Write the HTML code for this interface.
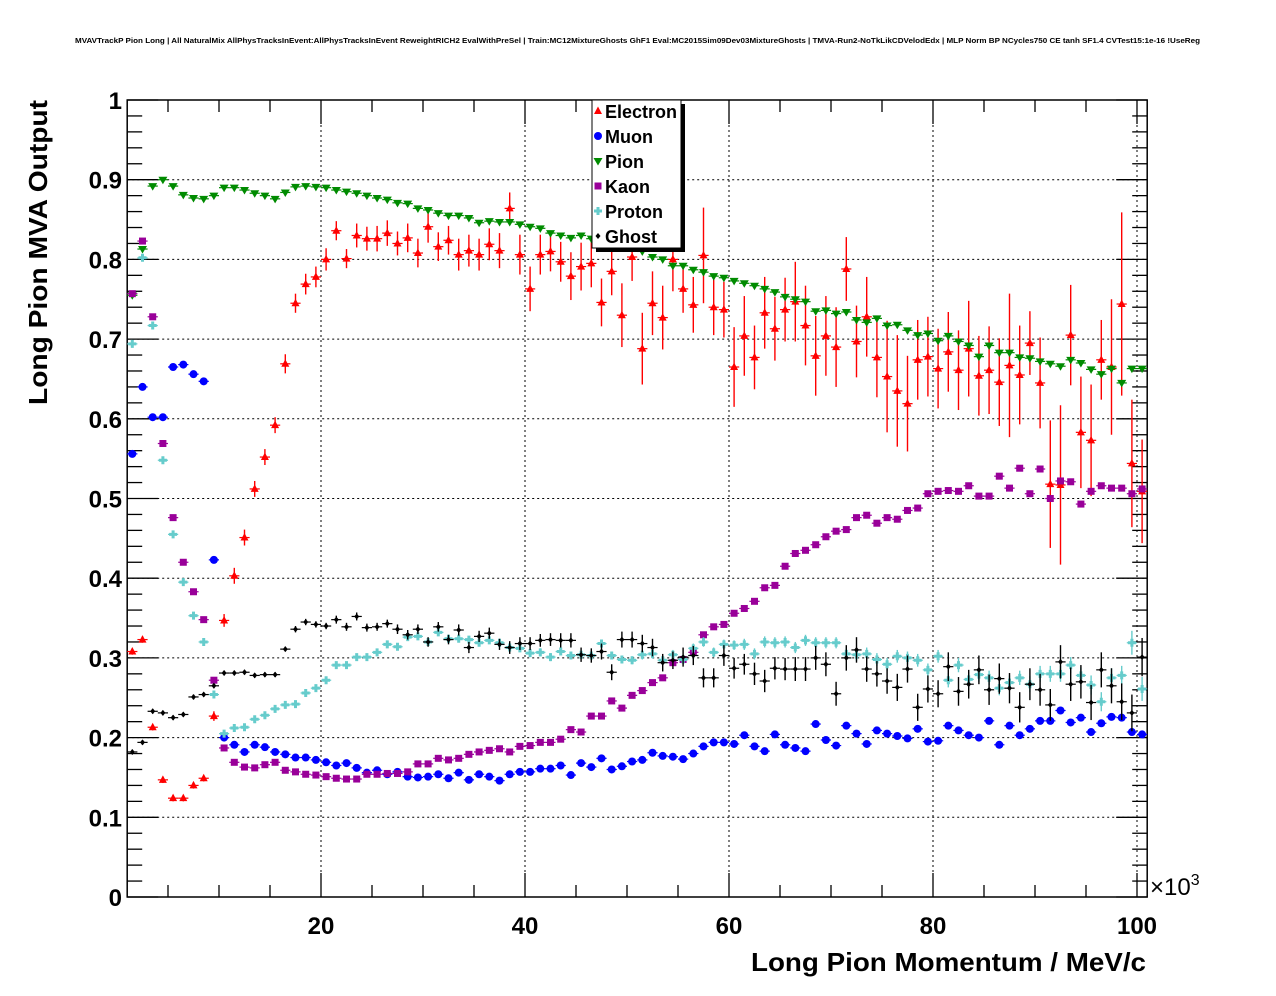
<!DOCTYPE html>
<html><head><meta charset="utf-8">
<style>
html,body{margin:0;padding:0;background:#fff;}
svg{display:block;font-family:"Liberation Sans",Arial,sans-serif;}
</style></head>
<body>
<svg id="chart" width="1276" height="996" viewBox="0 0 1276 996" xmlns="http://www.w3.org/2000/svg">
<rect x="0" y="0" width="1276" height="996" fill="#fff"/>
<text x="75" y="43" font-size="7.6" font-weight="bold" textLength="1125" lengthAdjust="spacingAndGlyphs">MVAVTrackP Pion Long | All NaturalMix AllPhysTracksInEvent:AllPhysTracksInEvent ReweightRICH2 EvalWithPreSel | Train:MC12MixtureGhosts GhF1 Eval:MC2015Sim09Dev03MixtureGhosts | TMVA-Run2-NoTkLikCDVelodEdx | MLP Norm BP NCycles750 CE tanh SF1.4 CVTest15:1e-16 !UseReg</text>
<g id="grid"></g>
<g id="axes"></g>
<g id="series"></g>
<text transform="translate(47,405) rotate(-90)" font-size="26" font-weight="bold" textLength="305" lengthAdjust="spacingAndGlyphs">Long Pion MVA Output</text>
<text x="751" y="971" font-size="26" font-weight="bold" textLength="395" lengthAdjust="spacingAndGlyphs">Long Pion Momentum / MeV/c</text>
<text x="1150" y="895" font-size="24" font-weight="normal">×10<tspan font-size="16" dy="-10">3</tspan></text>
<g id="legend"></g>
</svg>
<script>
const categories = Array.from({length:100},(_,i)=>i+1.5); // bin centres in 10^3 MeV/c
const yTicks = [0,0.1,0.2,0.3,0.4,0.5,0.6,0.7,0.8,0.9,1];
const yTickLabels = ["0","0.1","0.2","0.3","0.4","0.5","0.6","0.7","0.8","0.9","1"];
const xTicks = [20,40,60,80,100];
const xTickLabels = ["20","40","60","80","100"];
const seriesNames = ["Electron","Muon","Pion","Kaon","Proton","Ghost"];
const electron = [0.308,0.323,0.213,0.147,0.124,0.124,0.14,0.149,0.227,0.347,
0.403,0.451,0.512,0.552,0.592,0.669,0.745,0.769,0.778,0.8,
0.836,0.801,0.83,0.826,0.826,0.833,0.82,0.827,0.808,0.841,
0.816,0.824,0.806,0.811,0.806,0.819,0.811,0.864,0.806,0.763,
0.806,0.81,0.797,0.779,0.791,0.795,0.746,0.785,0.73,0.803,
0.688,0.745,0.727,0.8,0.763,0.743,0.805,0.74,0.737,0.665,
0.704,0.677,0.733,0.713,0.737,0.747,0.717,0.679,0.704,0.69,
0.788,0.697,0.728,0.677,0.653,0.635,0.619,0.674,0.678,0.663,
0.684,0.661,0.688,0.654,0.661,0.646,0.667,0.655,0.695,0.645,
0.518,0.517,0.705,0.583,0.573,0.674,0.665,0.744,0.544,0.509];
const electronErr = [0.004,0.004,0.004,0.004,0.004,0.004,0.004,0.004,0.006,0.008,
0.01,0.01,0.01,0.01,0.01,0.012,0.012,0.013,0.013,0.014,
0.012,0.012,0.015,0.015,0.016,0.016,0.015,0.018,0.018,0.02,
0.018,0.018,0.02,0.02,0.02,0.02,0.022,0.02,0.025,0.028,
0.025,0.025,0.025,0.03,0.03,0.03,0.03,0.03,0.04,0.03,
0.045,0.04,0.04,0.04,0.03,0.035,0.06,0.035,0.035,0.05,
0.05,0.04,0.045,0.04,0.04,0.05,0.05,0.05,0.05,0.05,
0.04,0.045,0.05,0.05,0.07,0.07,0.06,0.05,0.05,0.05,
0.05,0.05,0.06,0.05,0.055,0.055,0.09,0.062,0.04,0.057,
0.08,0.1,0.063,0.07,0.07,0.05,0.085,0.115,0.08,0.065];
const muon = [0.556,0.64,0.602,0.602,0.665,0.668,0.656,0.647,0.423,0.2,
0.191,0.182,0.191,0.188,0.182,0.179,0.175,0.175,0.172,0.169,
0.165,0.168,0.162,0.156,0.159,0.154,0.157,0.151,0.15,0.151,
0.154,0.149,0.156,0.147,0.154,0.151,0.146,0.154,0.157,0.157,
0.161,0.161,0.165,0.153,0.168,0.163,0.174,0.16,0.164,0.17,
0.172,0.181,0.177,0.176,0.173,0.18,0.189,0.194,0.194,0.192,
0.203,0.189,0.183,0.204,0.191,0.187,0.183,0.217,0.197,0.19,
0.215,0.205,0.192,0.209,0.205,0.202,0.199,0.211,0.195,0.196,
0.215,0.209,0.203,0.2,0.221,0.191,0.215,0.203,0.211,0.221,
0.221,0.234,0.219,0.225,0.207,0.218,0.226,0.225,0.207,0.204];
const pion = [0.755,0.813,0.892,0.9,0.892,0.881,0.877,0.876,0.88,0.89,
0.89,0.887,0.883,0.88,0.876,0.884,0.891,0.892,0.891,0.89,
0.887,0.885,0.883,0.88,0.877,0.875,0.871,0.87,0.864,0.862,
0.858,0.855,0.855,0.852,0.846,0.848,0.847,0.847,0.844,0.841,
0.839,0.833,0.83,0.827,0.83,0.826,0.823,0.82,0.818,0.815,
0.81,0.803,0.8,0.792,0.792,0.787,0.784,0.779,0.777,0.773,
0.77,0.767,0.763,0.759,0.753,0.75,0.747,0.735,0.736,0.732,
0.734,0.724,0.721,0.726,0.717,0.718,0.711,0.705,0.707,0.698,
0.704,0.697,0.692,0.678,0.692,0.683,0.683,0.677,0.676,0.672,
0.669,0.666,0.674,0.67,0.662,0.656,0.663,0.645,0.663,0.663];
const kaon = [0.757,0.823,0.728,0.569,0.476,0.42,0.383,0.348,0.272,0.187,
0.169,0.163,0.162,0.166,0.169,0.159,0.157,0.154,0.153,0.151,
0.149,0.148,0.148,0.154,0.154,0.155,0.155,0.157,0.167,0.167,
0.174,0.172,0.174,0.179,0.182,0.184,0.186,0.182,0.189,0.19,
0.194,0.194,0.198,0.21,0.207,0.227,0.227,0.246,0.237,0.253,
0.259,0.269,0.275,0.294,0.298,0.307,0.329,0.339,0.342,0.356,
0.362,0.371,0.388,0.391,0.415,0.431,0.435,0.442,0.452,0.459,
0.461,0.476,0.479,0.469,0.476,0.474,0.485,0.488,0.506,0.509,
0.51,0.509,0.516,0.503,0.503,0.528,0.513,0.538,0.506,0.537,
0.5,0.522,0.521,0.493,0.509,0.516,0.513,0.513,0.506,0.512];
const proton = [0.694,0.802,0.717,0.548,0.455,0.395,0.353,0.32,0.254,0.205,
0.212,0.213,0.223,0.228,0.236,0.241,0.242,0.256,0.262,0.272,
0.291,0.291,0.301,0.301,0.307,0.317,0.314,0.326,0.327,0.32,
0.332,0.324,0.324,0.323,0.319,0.322,0.319,0.313,0.312,0.306,
0.307,0.301,0.308,0.303,0.304,0.303,0.318,0.303,0.298,0.297,
0.304,0.305,0.297,0.304,0.298,0.312,0.32,0.307,0.317,0.316,
0.317,0.305,0.32,0.319,0.32,0.313,0.322,0.319,0.319,0.319,
0.305,0.304,0.305,0.298,0.292,0.302,0.3,0.297,0.285,0.302,
0.272,0.291,0.273,0.279,0.275,0.262,0.269,0.275,0.267,0.28,
0.28,0.28,0.291,0.278,0.266,0.245,0.275,0.278,0.319,0.261];
const protonErr = [0.003,0.003,0.003,0.003,0.003,0.003,0.003,0.003,0.003,0.003,
0.003,0.003,0.003,0.003,0.003,0.003,0.003,0.003,0.003,0.003,
0.004,0.004,0.004,0.004,0.004,0.004,0.004,0.004,0.004,0.004,
0.004,0.004,0.004,0.004,0.004,0.004,0.004,0.004,0.004,0.004,
0.005,0.005,0.005,0.005,0.005,0.005,0.005,0.005,0.005,0.005,
0.006,0.006,0.006,0.006,0.006,0.006,0.006,0.006,0.006,0.006,
0.007,0.007,0.007,0.007,0.007,0.007,0.007,0.007,0.007,0.007,
0.008,0.008,0.008,0.008,0.008,0.008,0.008,0.008,0.008,0.008,
0.009,0.009,0.009,0.009,0.009,0.009,0.009,0.009,0.01,0.01,
0.01,0.01,0.01,0.01,0.012,0.012,0.012,0.012,0.015,0.015];
const ghost = [0.182,0.194,0.233,0.231,0.225,0.229,0.251,0.254,0.265,0.281,
0.281,0.282,0.278,0.279,0.279,0.311,0.336,0.345,0.342,0.34,
0.348,0.339,0.352,0.338,0.339,0.343,0.336,0.329,0.336,0.32,
0.339,0.323,0.335,0.313,0.327,0.331,0.317,0.313,0.318,0.318,
0.322,0.323,0.322,0.322,0.304,0.303,0.308,0.282,0.323,0.323,
0.318,0.313,0.294,0.297,0.301,0.303,0.275,0.275,0.303,0.287,
0.292,0.28,0.271,0.287,0.286,0.286,0.286,0.3,0.292,0.255,
0.3,0.31,0.286,0.28,0.271,0.263,0.286,0.238,0.261,0.255,
0.289,0.258,0.267,0.285,0.26,0.274,0.262,0.238,0.267,0.26,
0.241,0.295,0.267,0.27,0.244,0.285,0.265,0.245,0.231,0.301];
const ghostErr = [0.003,0.003,0.003,0.003,0.003,0.003,0.003,0.003,0.003,0.003,
0.003,0.003,0.003,0.003,0.003,0.003,0.004,0.004,0.004,0.004,
0.005,0.005,0.005,0.005,0.005,0.005,0.006,0.006,0.006,0.006,
0.006,0.006,0.007,0.007,0.007,0.007,0.007,0.008,0.008,0.008,
0.008,0.008,0.009,0.009,0.009,0.009,0.01,0.01,0.01,0.01,
0.011,0.011,0.011,0.011,0.012,0.012,0.012,0.012,0.013,0.013,
0.013,0.014,0.014,0.014,0.014,0.015,0.015,0.015,0.015,0.015,
0.016,0.016,0.016,0.016,0.016,0.017,0.017,0.017,0.017,0.017,
0.018,0.018,0.018,0.018,0.019,0.019,0.019,0.019,0.02,0.02,
0.02,0.021,0.021,0.021,0.022,0.022,0.022,0.023,0.023,0.024];

const NS='http://www.w3.org/2000/svg';
const L=127.2,R=1147.2,T=100,B=897, X0=1, X1=101;
function xs(v){return L+(v-X0)/(X1-X0)*(R-L);}
function ys(v){return B-v*(B-T);}
function mk(tag,attrs,parent){const e=document.createElementNS(NS,tag);for(const k in attrs)e.setAttribute(k,attrs[k]);parent.appendChild(e);return e;}
const grid=document.getElementById('grid'),axes=document.getElementById('axes'),ser=document.getElementById('series'),leg=document.getElementById('legend');

yTicks.forEach(v=>{if(v>0&&v<1){const g=mk('line',{x1:L,x2:R,y1:ys(v),y2:ys(v),stroke:'#000','stroke-width':1,'stroke-dasharray':'2,3'},grid);

}});
xTicks.forEach(v=>{const g=mk('line',{x1:xs(v),x2:xs(v),y1:T,y2:B,stroke:'#000','stroke-width':1,'stroke-dasharray':'2,3'},grid);

});

const fr=mk('rect',{x:L,y:T,width:R-L,height:B-T,fill:'none',stroke:'#000','stroke-width':1.5},axes);


for(let k=0;k<=50;k++){const v=k/50;const maj=k%5===0;const len=maj?31:15;
 const t1=mk('line',{x1:L,x2:L+len,y1:ys(v),y2:ys(v),stroke:'#000','stroke-width':1.3},axes);
 
 
 const t2=mk('line',{x1:R,x2:R-len,y1:ys(v),y2:ys(v),stroke:'#000','stroke-width':1.3},axes);
 
 }
for(let v=5;v<=100;v+=5){const maj=v%20===0;const len=maj?24:12;
 const t1=mk('line',{x1:xs(v),x2:xs(v),y1:B,y2:B-len,stroke:'#000','stroke-width':1.3},axes);
 
 
 const t2=mk('line',{x1:xs(v),x2:xs(v),y1:T,y2:T+len,stroke:'#000','stroke-width':1.3},axes);
 
 }
yTicks.forEach((v,i)=>{const t=mk('text',{x:122,y:ys(v)+9,'text-anchor':'end','font-size':24,'font-weight':'bold'},axes);t.textContent=yTickLabels[i];
 
 });
xTicks.forEach((v,i)=>{const t=mk('text',{x:xs(v),y:934,'text-anchor':'middle','font-size':24,'font-weight':'bold'},axes);t.textContent=xTickLabels[i];
 
 });

function marker(type,cx,cy,col,parent){
 let e;
 if(type==='tu') e=mk('polygon',{points:`${cx},${cy-4.5} ${cx-4},${cy+3} ${cx+4},${cy+3}`,fill:col},parent);
 else if(type==='td') e=mk('polygon',{points:`${cx},${cy+4.5} ${cx-4.5},${cy-3} ${cx+4.5},${cy-3}`,fill:col},parent);
 else if(type==='c') e=mk('circle',{cx:cx,cy:cy,r:4,fill:col},parent);
 else if(type==='s') e=mk('rect',{x:cx-3.5,y:cy-3.5,width:7,height:7,fill:col},parent);
 else if(type==='p') e=mk('path',{d:`M${cx-4},${cy-1.5}h2.5v-2.5h3v2.5h2.5v3h-2.5v2.5h-3v-2.5h-2.5z`,fill:col},parent);
 else e=mk('polygon',{points:`${cx},${cy-3} ${cx+2.5},${cy} ${cx},${cy+3} ${cx-2.5},${cy}`,fill:col},parent);
 return e;
}
const seriesDefs=[
 {name:'electron',data:electron,err:electronErr,col:'#ff0000',m:'tu'},
 {name:'muon',data:muon,err:null,col:'#0000ff',m:'c'},
 {name:'pion',data:pion,err:null,col:'#008b00',m:'td'},
 {name:'kaon',data:kaon,err:null,col:'#990099',m:'s'},
 {name:'proton',data:proton,err:protonErr,col:'#66cccc',m:'p'},
 {name:'ghost',data:ghost,err:ghostErr,col:'#000000',m:'d'}];
seriesDefs.forEach(s=>{
 const g=mk('g',{},ser);
 
 
 s.data.forEach((v,i)=>{
  const cx=xs(categories[i]),cy=ys(v);
  const h=mk('line',{x1:cx-5.1,x2:cx+5.1,y1:cy,y2:cy,stroke:s.col,'stroke-width':1.2},g);
  
  
  if(s.err){const e=s.err[i];const vl=mk('line',{x1:cx,x2:cx,y1:ys(v+e),y2:ys(v-e),stroke:s.col,'stroke-width':1.4},g);
   
   }
  const m=marker(s.m,cx,cy,s.col,g);
  
  
 });
});

const lx=592,ly=100,lw=89,lh=148;
const sh=mk('rect',{x:lx+4,y:ly+4,width:lw,height:lh,fill:'#000'},leg);


const bx=mk('rect',{x:lx,y:ly,width:lw,height:lh,fill:'#fff',stroke:'#000','stroke-width':1},leg);


seriesDefs.forEach((s,i)=>{
 const y=ly+11+i*25;
 const g=mk('g',{},leg);
 
 
 marker(s.m,lx+6,y,s.col,g);
 const t=mk('text',{x:lx+13,y:y+7,'font-size':18,'font-weight':'bold'},g);
 t.textContent=seriesNames[i];
});
</script>
</body></html>
